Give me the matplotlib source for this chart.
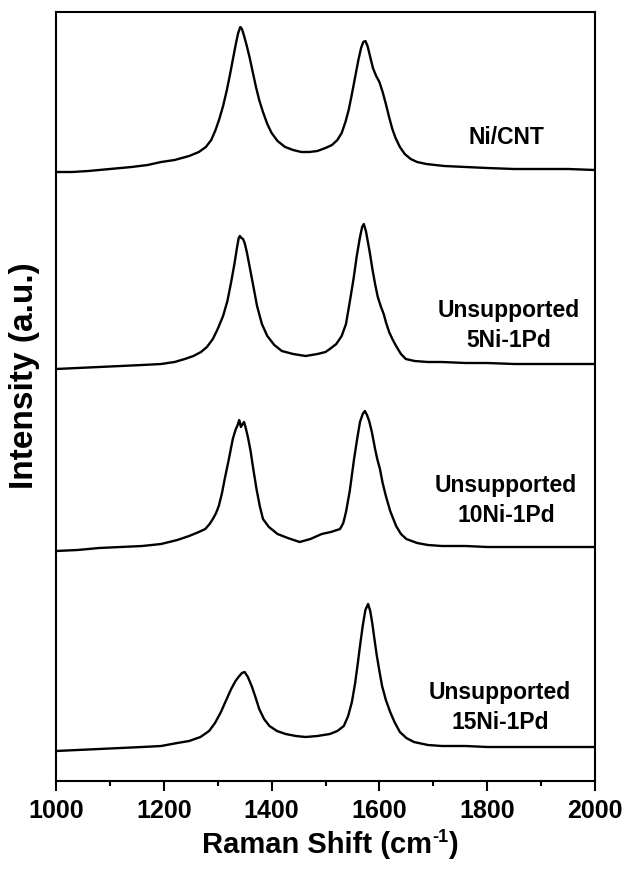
import matplotlib
matplotlib.use("Agg")
import matplotlib.pyplot as plt
from matplotlib.ticker import MultipleLocator

plt.rcParams["font.family"] = ["Liberation Sans", "DejaVu Sans"]
plt.rcParams["font.weight"] = "bold"

# Raman spectra: shift (cm^-1) and intensity (a.u.) above each trace's baseline
ni_cnt_shift = [1000, 1030, 1060, 1100, 1140, 1170, 1195, 1220, 1247, 1265, 1278, 1288,
                1296, 1303, 1310, 1317, 1323, 1329, 1334, 1338, 1342, 1345, 1349, 1354,
                1359, 1365, 1371, 1377, 1384, 1392, 1400, 1411, 1425, 1440, 1455, 1470,
                1485, 1500, 1512, 1522, 1530, 1537, 1543, 1549, 1555, 1561, 1566, 1570,
                1574, 1578, 1583, 1588, 1594, 1600, 1606, 1612, 1618, 1624, 1630, 1638,
                1647, 1658, 1670, 1687, 1720, 1760, 1800, 1850, 1900, 1950, 2000]
ni_cnt_int = [0, 0, 1, 3, 5, 7, 10, 12, 16, 20, 25, 32,
              42, 53, 66, 82, 98, 115, 129, 139, 145, 143, 136, 126,
              115, 100, 85, 72, 60, 48, 39, 31, 25, 22, 20, 20,
              21, 24, 27, 32, 39, 50, 62, 78, 95, 112, 124, 130,
              131, 126, 115, 104, 96, 90, 80, 68, 55, 43, 34, 25,
              18, 13, 10, 8, 6, 5, 4, 3, 3, 3, 2]

pd5_shift = [1000, 1040, 1080, 1120, 1160, 1195, 1220, 1239, 1255, 1269, 1280, 1291,
             1300, 1310, 1318, 1325, 1331, 1336, 1339, 1341, 1344, 1347, 1350, 1354,
             1359, 1365, 1373, 1382, 1392, 1405, 1419, 1440, 1463, 1485, 1500, 1508,
             1520, 1530, 1538, 1545, 1552, 1558, 1564, 1568, 1571, 1575, 1579, 1582,
             1587, 1592, 1597, 1603, 1608, 1612, 1618, 1625, 1631, 1640, 1649, 1665,
             1690, 1716, 1760, 1800, 1850, 1900, 1950, 2000]
pd5_int = [0, 1, 2, 3, 4, 5, 7, 10, 13, 17, 22, 30,
           40, 53, 68, 87, 105, 122, 131, 133, 131, 130, 126, 117,
           103, 86, 63, 45, 33, 24, 18, 15, 13, 15, 17, 20,
           25, 33, 45, 67, 90, 113, 132, 142, 145, 138, 126, 117,
           100, 85, 72, 62, 55, 47, 37, 29, 23, 15, 10, 8,
           7, 7, 6, 6, 5, 5, 5, 5]

pd10_shift = [1000, 1040, 1080, 1120, 1160, 1195, 1225, 1247, 1265, 1277, 1285, 1291,
              1297, 1302, 1308, 1313, 1320, 1328, 1333, 1337, 1340, 1343, 1346, 1349,
              1352, 1356, 1361, 1366, 1372, 1378, 1384, 1395, 1411, 1430, 1452, 1472,
              1493, 1510, 1527, 1533, 1538, 1545, 1553, 1559, 1564, 1569, 1573, 1577,
              1581, 1586, 1592, 1596, 1601, 1606, 1612, 1620, 1631, 1640, 1650, 1670,
              1690, 1716, 1760, 1800, 1850, 1900, 1950, 2000]
pd10_int = [0, 1, 3, 4, 5, 7, 11, 15, 19, 22, 27, 32,
            38, 45, 58, 72, 90, 112, 121, 126, 131, 124, 127, 129,
            123, 114, 100, 82, 62, 45, 32, 24, 17, 13, 9, 12,
            17, 19, 22, 28, 39, 60, 92, 113, 129, 137, 140, 136,
            130, 119, 102, 92, 82, 68, 55, 40, 25, 17, 12, 8,
            6, 5, 5, 4, 4, 4, 4, 4]

pd15_shift = [1000, 1040, 1080, 1120, 1160, 1195, 1225, 1247, 1268, 1284, 1295, 1306,
              1315, 1325, 1333, 1340, 1345, 1350, 1356, 1363, 1370, 1377, 1386, 1396,
              1410, 1426, 1445, 1463, 1485, 1508, 1522, 1534, 1542, 1549, 1555, 1560,
              1564, 1569, 1574, 1579, 1583, 1587, 1590, 1595, 1600, 1605, 1612, 1620,
              1628, 1638, 1650, 1664, 1690, 1716, 1760, 1800, 1850, 1900, 1950, 2000]
pd15_int = [0, 1, 2, 3, 4, 5, 8, 10, 14, 20, 28, 39,
            50, 62, 70, 75, 78, 79, 74, 65, 54, 42, 32, 25,
            20, 17, 15, 14, 15, 17, 20, 25, 35, 49, 68, 88,
            105, 125, 141, 147, 140, 127, 115, 96, 80, 65, 51, 39,
            29, 19, 13, 9, 6, 5, 5, 4, 4, 4, 4, 4]

series_shift = [ni_cnt_shift, pd5_shift, pd10_shift, pd15_shift]
series_int = [ni_cnt_int, pd5_int, pd10_int, pd15_int]
series_offset = [609, 412, 230, 30]

label_lines = [["Ni/CNT"],
               ["Unsupported", "5Ni-1Pd"],
               ["Unsupported", "10Ni-1Pd"],
               ["Unsupported", "15Ni-1Pd"]]
label_x = [1835, 1840, 1835, 1824]
label_y = [638, 465, 290, 83]

fig = plt.figure(figsize=(6.3, 8.7), dpi=100)
ax = fig.add_axes([56 / 630, 88 / 870, 539 / 630, 769 / 870])

for xs, ys, off in zip(series_shift, series_int, series_offset):
    ax.plot(xs, [v + off for v in ys], color="black", lw=1.7,
            solid_joinstyle="round")

for lines, lx, ly in zip(label_lines, label_x, label_y):
    for i, line in enumerate(lines):
        ax.text(lx, ly - 30 * i, line, ha="center", va="baseline",
                fontsize=16.5, fontweight="bold")

ax.set_xlim(1000, 2000)
ax.set_ylim(0, 769)
ax.xaxis.set_major_locator(MultipleLocator(200))
ax.xaxis.set_minor_locator(MultipleLocator(100))
ax.tick_params(axis="x", which="major", direction="out", length=7, width=1.5,
               labelsize=18, pad=5)
ax.tick_params(axis="x", which="minor", direction="out", length=3.5, width=1.5)
ax.tick_params(axis="y", left=False, labelleft=False)
for sp in ax.spines.values():
    sp.set_linewidth(1.5)
for lab in ax.get_xticklabels():
    lab.set_fontweight("bold")

# x-axis title with a small raised "-1"
renderer = fig.canvas.get_renderer()
title_parts = ["Raman Shift (cm", "-1", ")"]
part_size = [21, 13, 21]
part_rise = [0, 11, 0]
baseline_px = 870 - 853
center_px = 330
texts = [fig.text(0, baseline_px / 870, s, fontsize=fs, fontweight="bold",
                  va="baseline", ha="left")
         for s, fs in zip(title_parts, part_size)]
widths = [t.get_window_extent(renderer).width for t in texts]
x_px = center_px - sum(widths) / 2
for t, w, rise in zip(texts, widths, part_rise):
    t.set_position((x_px / 630, (baseline_px + rise) / 870))
    x_px += w

fig.text(24 / 630, 1 - 376 / 870, "Intensity (a.u.)", ha="center", va="center",
         rotation=90, fontsize=24, fontweight="bold")

fig.savefig("out.png", dpi=100)
